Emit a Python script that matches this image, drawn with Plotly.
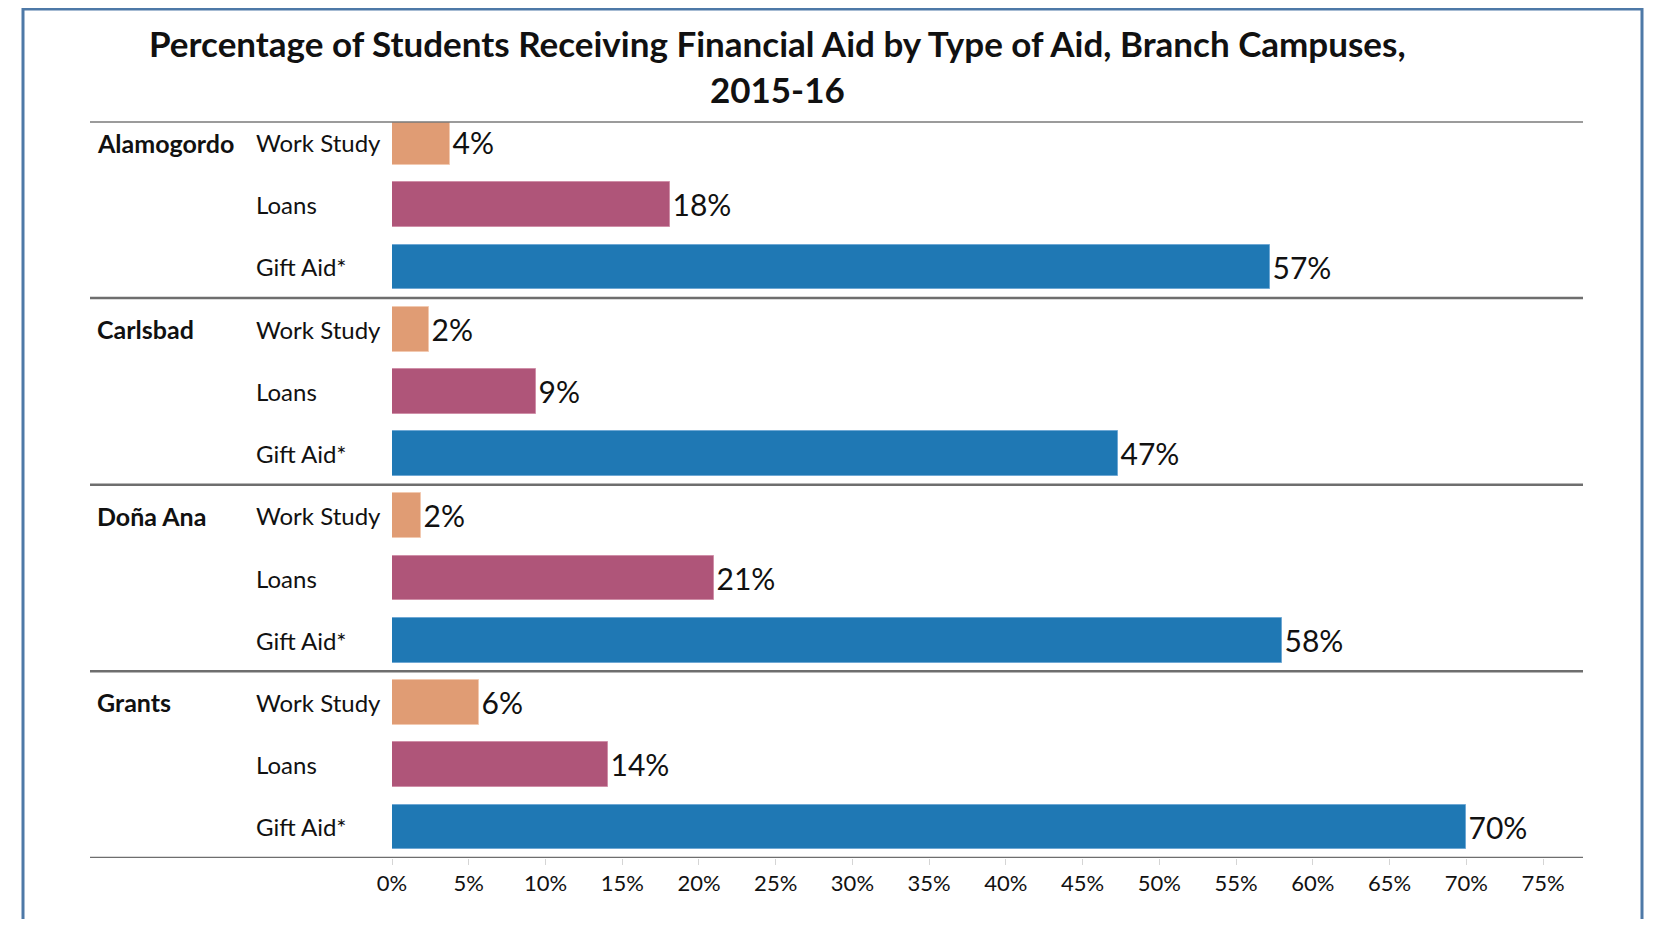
import plotly.graph_objects as go

# ---- data ----
campuses = ["Alamogordo", "Carlsbad", "Doña Ana", "Grants"]
aid_types = ["Work Study", "Loans", "Gift Aid*"]
work_study = [3.8, 2.4, 1.9, 5.7]
loans = [18.1, 9.4, 21.0, 14.1]
gift_aid = [57.2, 47.3, 58.0, 70.0]
tick_values = list(range(0, 80, 5))
tick_labels = [f"{v}%" for v in tick_values]
title_text = ("Percentage of Students Receiving Financial Aid by Type of Aid, Branch Campuses,"
              "<br>2015-16")

series = [work_study, loans, gift_aid]
colors = ["#E09C74", "#AF5579", "#1F78B4"]
outline = ["#F2C9B0", "#CF8FA8", "#6FA8D4"]

OFF = 8  # browser default body margin
W, H = 1657 - 2 * OFF, 927 - 2 * OFF
# plot area in page pixels
PX0, PX1, PY0, PY1 = 392, 1583, 122, 858
L, T = PX0 - OFF, PY0 - OFF
R, B = W - (PX1 - OFF), H - (PY1 - OFF)
PW, PH = PX1 - PX0, PY1 - PY0
FONT = "Lato"


def px_x(x):
    return (x - PX0) / PW


def px_y(y):
    return 1 - (y - PY0) / PH


fig = go.Figure()
n_types = len(aid_types)
for ti, (name, vals) in enumerate(zip(aid_types, series)):
    ys = [ci * n_types + ti for ci in range(len(campuses))]
    fig.add_trace(go.Bar(
        x=vals, y=ys, orientation="h", name=name, width=0.72,
        marker=dict(color=colors[ti], line=dict(color=outline[ti], width=1)),
        texttemplate="%{x:.0f}%", textposition="outside",
        textfont=dict(family=FONT, size=30, color="#111111"),
        cliponaxis=False, showlegend=False,
        hovertemplate=f"%{{x}}%<extra>{name}</extra>",
    ))

annotations = []
for ci, camp in enumerate(campuses):
    annotations.append(dict(
        x=px_x(95), xref="paper", y=ci * n_types, yref="y", text=f"<b>{camp}</b>",
        showarrow=False, xanchor="left", yanchor="middle",
        font=dict(family=FONT, size=25, color="#111111")))
    for ti, t in enumerate(aid_types):
        annotations.append(dict(
            x=px_x(254), xref="paper", y=ci * n_types + ti, yref="y", text=t,
            showarrow=False, xanchor="left", yanchor="middle",
            font=dict(family=FONT, size=24, color="#111111")))
# title
annotations.append(dict(
    x=px_x(777), xref="paper", y=px_y(66), yref="paper", text=f"<b>{title_text}</b>",
    showarrow=False, xanchor="center", yanchor="middle", align="center",
    font=dict(family=FONT, size=35, color="#111111")))

shapes = []
# top separator
shapes.append(dict(type="line", xref="paper", yref="paper", x0=px_x(90), x1=px_x(1583),
                   y0=1, y1=1, line=dict(color="#7a7a7a", width=1.5)))
for ci in range(len(campuses)):
    yy = ci * n_types + n_types - 0.5
    shapes.append(dict(type="line", xref="paper", yref="y", x0=px_x(90), x1=px_x(1583),
                       y0=yy, y1=yy, line=dict(color="#6e6e6e", width=2.5)))
# outer border
shapes.append(dict(type="rect", xref="paper", yref="paper",
                   x0=px_x(23), x1=px_x(1642), y0=px_y(960), y1=px_y(9),
                   line=dict(color="#4E79A7", width=3), fillcolor="rgba(0,0,0,0)", layer="below"))

fig.update_layout(
    width=W, height=H,
    margin=dict(l=L, r=R, t=T, b=B),
    paper_bgcolor="white", plot_bgcolor="white",
    xaxis=dict(range=[0, 77.6], tickvals=tick_values, ticktext=tick_labels,
               ticks="outside", ticklen=6, tickcolor="#d5d5d5", tickwidth=1,
               showgrid=False, zeroline=False, showline=False, ticklabelstandoff=0,
               tickfont=dict(family=FONT, size=22, color="#111111")),
    yaxis=dict(range=[len(campuses) * n_types - 0.5, -0.33], showticklabels=False,
               showgrid=False, zeroline=False, showline=False, ticks=""),
    bargap=0, annotations=annotations, shapes=shapes,
)

fig.write_html("out.html")
